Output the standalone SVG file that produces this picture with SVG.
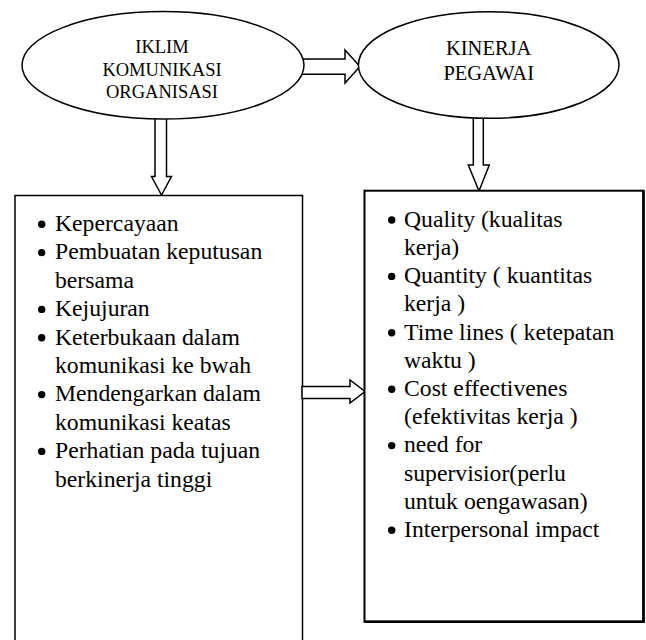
<svg xmlns="http://www.w3.org/2000/svg" width="646" height="640" viewBox="0 0 646 640">
<style>
  .shape { fill: #ffffff; stroke: #000000; stroke-width: 1.5; }
  .arrow { fill: #ffffff; stroke: #000000; stroke-width: 1.5; stroke-linejoin: miter; }
  .ell { font-family: 'Liberation Serif', 'DejaVu Serif', serif; fill: #000000; text-anchor: middle; }
  .item { font-family: 'Liberation Serif', 'DejaVu Serif', serif; font-size: 23.7px; fill: #000000; }
  .bullet { fill: #000000; }
</style>
<rect width="646" height="640" fill="#ffffff"/>

<g id="connectors">
  <polygon class="arrow" points="296,59 345,59 345,50 360,66.5 345,83 345,74.3 296,74.3"/>
  <polygon class="arrow" points="155,112 166.5,112 166.5,176.5 171.5,176.5 161.5,195 151.5,176.5 155,176.5"/>
  <polygon class="arrow" points="473.3,112 483.3,112 483.3,165 489.3,165 479,191 468.3,165 473.3,165"/>
</g>

<g id="node-iklim">
  <ellipse class="shape" cx="163" cy="65.3" rx="141" ry="53.7"/>
  <text class="ell" font-size="18.5" x="162" y="53">IKLIM</text>
  <text class="ell" font-size="18.5" x="162" y="75.5">KOMUNIKASI</text>
  <text class="ell" font-size="18.5" x="162" y="97.5">ORGANISASI</text>
</g>

<g id="node-kinerja">
  <ellipse class="shape" cx="488.7" cy="65" rx="130.3" ry="53.3"/>
  <text class="ell" font-size="20.5" x="488.7" y="55">KINERJA</text>
  <text class="ell" font-size="20.5" x="488.7" y="80">PEGAWAI</text>
</g>

<g id="node-iklim-list">
  <rect class="shape" x="15" y="195.5" width="287.5" height="460"/>
  <g class="bullet">
    <circle cx="41.7" cy="224.2" r="3.7"/>
    <circle cx="41.7" cy="252.6" r="3.7"/>
    <circle cx="41.7" cy="309.4" r="3.7"/>
    <circle cx="41.7" cy="337.8" r="3.7"/>
    <circle cx="41.7" cy="394.6" r="3.7"/>
    <circle cx="41.7" cy="451.4" r="3.7"/>
  </g>
  <text class="item" x="55" y="231">Kepercayaan</text>
  <text class="item" x="55" y="259.4">Pembuatan keputusan</text>
  <text class="item" x="55" y="287.8">bersama</text>
  <text class="item" x="55" y="316.2">Kejujuran</text>
  <text class="item" x="55" y="344.6">Keterbukaan dalam</text>
  <text class="item" x="55" y="373">komunikasi ke bwah</text>
  <text class="item" x="55" y="401.4">Mendengarkan dalam</text>
  <text class="item" x="55" y="429.8">komunikasi keatas</text>
  <text class="item" x="55" y="458.2">Perhatian pada tujuan</text>
  <text class="item" x="55" y="486.6">berkinerja tinggi</text>
</g>

<g id="connector-mid">
  <polygon class="arrow" points="302,386.5 350,386.5 350,380 365,391.5 350,403 350,398.5 302,398.5"/>
</g>

<g id="node-kinerja-list">
  <rect x="364.5" y="190.7" width="279" height="431" fill="#ffffff" stroke="#000000" stroke-width="2"/>
  <path d="M643.5,190.7 V621.7 H364.5" fill="none" stroke="#000000" stroke-width="2.6"/>
  <g class="bullet">
    <circle cx="391.7" cy="220" r="3.7"/>
    <circle cx="391.7" cy="276.4" r="3.7"/>
    <circle cx="391.7" cy="332.8" r="3.7"/>
    <circle cx="391.7" cy="389.2" r="3.7"/>
    <circle cx="391.7" cy="445.6" r="3.7"/>
    <circle cx="391.7" cy="530.2" r="3.7"/>
  </g>
  <text class="item" x="404" y="226.7">Quality (kualitas</text>
  <text class="item" x="404" y="254.9">kerja)</text>
  <text class="item" x="404" y="283.1">Quantity ( kuantitas</text>
  <text class="item" x="404" y="311.3">kerja )</text>
  <text class="item" x="404" y="339.5">Time lines ( ketepatan</text>
  <text class="item" x="404" y="367.7">waktu )</text>
  <text class="item" x="404" y="395.9">Cost effectivenes</text>
  <text class="item" x="404" y="424.1">(efektivitas kerja )</text>
  <text class="item" x="404" y="452.3">need for</text>
  <text class="item" x="404" y="480.5">supervisior(perlu</text>
  <text class="item" x="404" y="508.7">untuk oengawasan)</text>
  <text class="item" x="404" y="536.9">Interpersonal impact</text>
</g>
</svg>
